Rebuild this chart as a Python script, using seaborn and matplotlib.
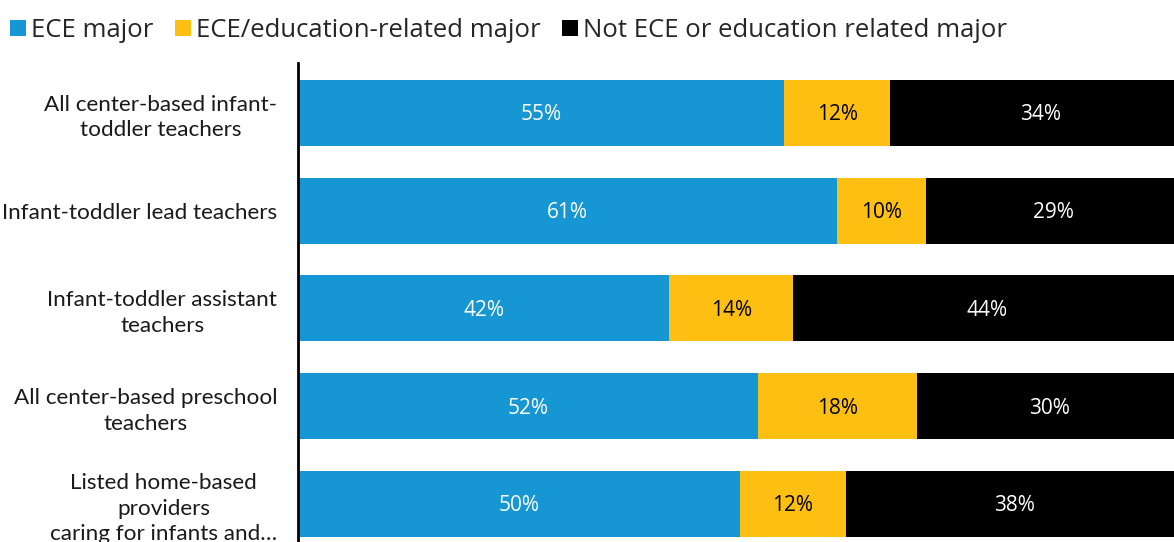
import matplotlib
matplotlib.use("Agg")
import matplotlib.pyplot as plt
from matplotlib.lines import Line2D
import seaborn as sns
import pandas as pd
import numpy as np

categories = [
    "All center-based infant-\ntoddler teachers",
    "Infant-toddler lead teachers",
    "Infant-toddler assistant\nteachers",
    "All center-based preschool\nteachers",
    "Listed home-based\nproviders\ncaring for infants and\u2026",
]
ece_major = [55, 61, 42, 52, 50]
ece_related = [12, 10, 14, 18, 12]
not_ece = [34, 29, 44, 30, 38]

series_names = ["ECE major", "ECE/education-related major", "Not ECE or education related major"]
colors = ["#1696d2", "#fdbf11", "#000000"]
label_colors = ["white", "black", "white"]

sns.set_theme(style="white")

df = pd.DataFrame({
    "category": categories,
    "ece": ece_major,
    "related": ece_related,
    "other": not_ece,
})
df["cum1"] = df["ece"]
df["cum2"] = df["ece"] + df["related"]
df["cum3"] = df["cum2"] + df["other"]

W, H = 1174, 542
fig = plt.figure(figsize=(W / 100, H / 100), dpi=100)
ax = fig.add_axes([298 / W, 0, (W - 298) / W, (542 - 63) / H])

# stacked bars: draw cumulative totals from the back to the front
for col, color in zip(["cum3", "cum2", "cum1"], colors[::-1]):
    sns.barplot(data=df, x=col, y="category", orient="h", color=color,
                width=0.675, linewidth=0, saturation=1, ax=ax)

ax.set_xlim(0, 99.1)
ax.set_ylim(4.39, -0.51)
ax.set_xlabel("")
ax.set_ylabel("")
ax.set_xticks([])
for s in ["top", "right", "bottom"]:
    ax.spines[s].set_visible(False)
ax.spines["left"].set_color("black")
ax.spines["left"].set_linewidth(2)
ax.tick_params(axis="y", length=0, pad=15)
for t in ax.get_yticklabels():
    t.set_fontfamily("Lato")
    t.set_fontsize(16.2)
    t.set_color("#1a1a1a")
    t.set_multialignment("center")
    t.set_linespacing(1.34)

# value labels centred in each segment
starts = [np.zeros(len(categories)), np.array(ece_major),
          np.array(ece_major) + np.array(ece_related)]
values = [ece_major, ece_related, not_ece]
for vals, st, lc in zip(values, starts, label_colors):
    for i, (v, s0) in enumerate(zip(vals, st)):
        ax.text(s0 + v / 2, i + 0.02, f"{v}%", ha="center", va="center",
                color=lc, fontsize=15, fontfamily="Open Sans")

handles = [Line2D([], [], marker="s", linestyle="", markersize=12,
                  markerfacecolor=c, markeredgewidth=0) for c in colors]
fig.legend(handles, series_names, loc="upper left", bbox_to_anchor=(0.0, 0.988),
           ncol=3, frameon=False, handlelength=0.5, handletextpad=0.25,
           columnspacing=0.9, borderaxespad=0.15, borderpad=0.3,
           prop={"family": "Open Sans", "size": 18.5})

fig.savefig("out.png", dpi=100)
